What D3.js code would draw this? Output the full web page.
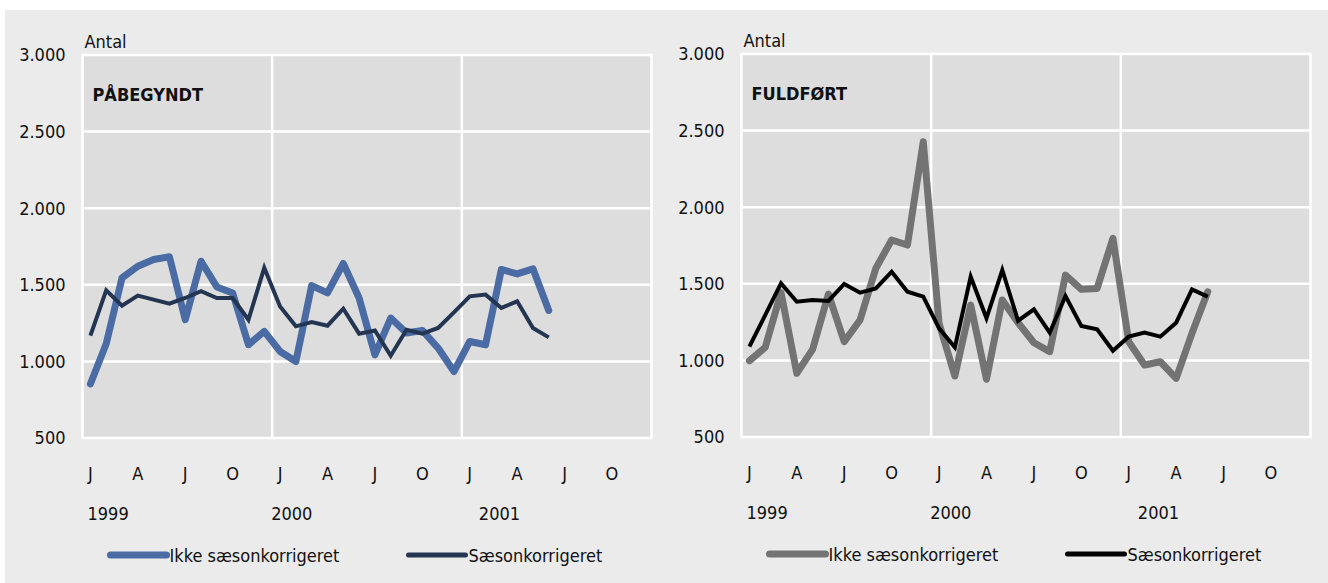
<!DOCTYPE html>
<html>
<head>
  <meta charset="utf-8">
  <title>Påbegyndt og fuldført</title>
  <script src="https://cdn.jsdelivr.net/npm/d3@7"></script>
  <style>
    body { margin: 0; background: #fff; }
    svg text { font-family: "Liberation Sans Narrow", "DejaVu Sans Condensed", "Roboto", sans-serif; fill: #111; font-size: 18px; }
  </style>
</head>
<body>
<svg id="chart" width="1328" height="583"></svg>
<script>
// data, Jan 1999 - Jun 2001 (monthly)
var months = [];
for (var yr = 1999; yr <= 2001; yr++) for (var m = 0; m < 12; m++) months.push(yr + "-" + (m + 1));
var monthLabels = ["J", "A", "J", "O"];
var yearLabels = ["1999", "2000", "2001"];
var yTicks = [500, 1000, 1500, 2000, 2500, 3000];
var seriesNames = ["Ikke sæsonkorrigeret", "Sæsonkorrigeret"];

var paabegyndtIkke = [853, 1115, 1545, 1621, 1665, 1683, 1272, 1654, 1486, 1447,
  1109, 1196, 1065, 999, 1495, 1447, 1639, 1414, 1043, 1283,
  1185, 1202, 1087, 934, 1130, 1109, 1600, 1571, 1604, 1333];
var paabegyndtSaeson = [1168, 1464, 1364, 1429, 1403, 1377, 1414, 1458, 1414, 1414,
  1272, 1611, 1359, 1229, 1257, 1233, 1344, 1181, 1202, 1037,
  1207, 1181, 1218, 1320, 1425, 1436, 1349, 1392, 1218, 1157];
var fuldfoertIkke = [998, 1085, 1442, 916, 1072, 1433, 1122, 1264, 1601, 1786,
  1753, 2427, 1242, 898, 1362, 877, 1394, 1246, 1115, 1057,
  1557, 1464, 1470, 1797, 1122, 970, 991, 883, 1177, 1448];
var fuldfoertSaeson = [1090, 1296, 1503, 1383, 1394, 1388, 1499, 1442, 1470, 1579,
  1448, 1416, 1209, 1085, 1546, 1275, 1590, 1259, 1333, 1181,
  1420, 1225, 1203, 1063, 1155, 1181, 1155, 1246, 1464, 1416];

var panels = [
  { title: "PÅBEGYNDT", left: 82.5, top: 55, ikke: paabegyndtIkke, saeson: paabegyndtSaeson, colors: ["#4a6ba4", "#243552"] },
  { title: "FULDFØRT", left: 741.5, top: 54, ikke: fuldfoertIkke, saeson: fuldfoertSaeson, colors: ["#737373", "#000000"] }
];

var svg = d3.select("#chart");
svg.append("rect").attr("x", 5).attr("y", 10).attr("width", 1323).attr("height", 573).attr("fill", "#ebebeb");

var W = 569, H = 383;
var yearShift = [5, -1, 17];

panels.forEach(function (p) {
  var g = svg.append("g").attr("transform", "translate(" + p.left + "," + p.top + ")");
  var x = d3.scaleBand().domain(months).range([0, W]);
  var y = d3.scaleLinear().domain([500, 3000]).range([H, 0]);

  g.append("rect").attr("width", W).attr("height", H).attr("fill", "#dddddd")
    .attr("stroke", "#fff").attr("stroke-width", 2.5);

  // horizontal grid
  g.selectAll("line.hg").data(yTicks.slice(1, -1)).enter().append("line")
    .attr("x1", 0).attr("x2", W).attr("y1", y).attr("y2", y)
    .attr("stroke", "#fff").attr("stroke-width", 2.5);
  // vertical grid at year starts
  g.selectAll("line.vg").data(["2000-1", "2001-1"]).enter().append("line")
    .attr("x1", function (d) { return x(d); }).attr("x2", function (d) { return x(d); })
    .attr("y1", 0).attr("y2", H)
    .attr("stroke", "#fff").attr("stroke-width", 2.5);

  // y axis labels
  g.selectAll("text.yl").data(yTicks).enter().append("text")
    .attr("x", -17).attr("y", y).attr("dy", "0.35em").attr("text-anchor", "end")
    .text(function (d) { return d3.format(",")(d).replace(",", "."); });

  g.append("text").attr("x", 2).attr("y", -7).text("Antal");
  g.append("text").attr("x", 10).attr("y", 46).style("font-weight", "bold").text(p.title);

  // month labels
  var quarterMonths = months.filter(function (d, i) { return i % 3 === 0; });
  g.selectAll("text.ml").data(quarterMonths).enter().append("text")
    .attr("x", function (d) { return x(d) + x.bandwidth() / 2; })
    .attr("y", 425).attr("text-anchor", "middle")
    .text(function (d, i) { return monthLabels[i % 4]; });
  // year labels
  g.selectAll("text.yr").data(yearLabels).enter().append("text")
    .attr("x", function (d, i) { return x(d + "-1") + yearShift[i]; })
    .attr("y", 465)
    .text(function (d) { return d; });

  var line = d3.line()
    .x(function (d, i) { return x(months[i]) + x.bandwidth() / 2; })
    .y(function (d) { return y(d); });

  g.append("path").datum(p.ikke).attr("d", line).attr("fill", "none")
    .attr("stroke", p.colors[0]).attr("stroke-width", 7).attr("stroke-linejoin", "round").attr("stroke-linecap", "round");
  g.append("path").datum(p.saeson).attr("d", line).attr("fill", "none")
    .attr("stroke", p.colors[1]).attr("stroke-width", 4).attr("stroke-linejoin", "miter").attr("stroke-linecap", "butt");

  // legend
  var leg = g.append("g").attr("transform", "translate(0,500)");
  [[28, 84, 7], [326, 383, 5]].forEach(function (s, i) {
    leg.append("line").attr("x1", s[0]).attr("x2", s[1]).attr("y1", 0).attr("y2", 0)
      .attr("stroke", p.colors[i]).attr("stroke-width", s[2]).attr("stroke-linecap", "round");
    leg.append("text").attr("x", s[1] + 3).attr("y", 0).attr("dy", "0.4em").text(seriesNames[i]);
  });
});
</script>
</body>
</html>
